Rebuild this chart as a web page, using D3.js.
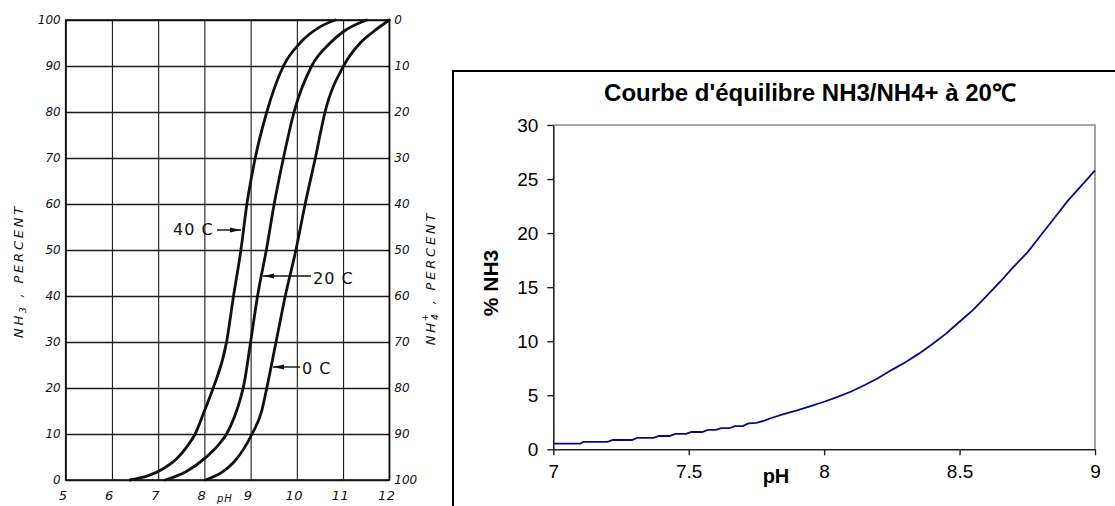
<!DOCTYPE html>
<html>
<head>
<meta charset="utf-8">
<script src="https://cdn.jsdelivr.net/npm/d3@7"></script>
<style>
  body { margin: 0; background: #fff; }
  svg { display: block; }
</style>
</head>
<body>
<svg id="chart" width="1115" height="506"></svg>
<script>
// ---------------------------
// NH3 / NH4+ equilibrium: scanned nomogram (left) + Excel-style chart (right)
// ---------------------------

// left panel ticks
const leftPhTicks = [5, 6, 7, 8, 9, 10, 11, 12];
const leftPctTicks = [0, 10, 20, 30, 40, 50, 60, 70, 80, 90, 100];

// left panel curves (pH, % NH3)
const ph40  = [6.39, 6.80, 7.10, 7.40, 7.62, 7.80, 8.00, 8.19, 8.48, 8.63, 8.79, 8.92, 9.10, 9.35, 9.71, 10.07, 10.50, 10.83];
const pct40 = [0,    1.0,  2.4,  4.6,  7.2,  10,   15,   20,   30,   40,   50,   60,   70,   80,   90,   95,    98.5,  100];
const ph20  = [7.15, 7.60, 8.02, 8.30, 8.48, 8.64, 8.76, 8.86, 9.00, 9.15, 9.34, 9.51, 9.71, 9.94, 10.32, 10.72, 11.01, 11.51];
const pct20 = [0,    1.8,  4.8,  7.6,  10,   13.5, 17,   21,   30,   40,   50,   60,   70,   80,   90,    95,    97.5,  100];
const ph0   = [8.02, 8.40, 8.63, 9.03, 9.24, 9.35, 9.55, 9.75, 9.98, 10.18, 10.40, 10.61, 11.01, 11.37, 11.66, 12.0];
const pct0  = [0,    1.8,  3.8,  10,   15,   20,   30,   40,   50,   60,    70,    80,    90,    95,    97.5,  100];

// right panel: Excel curve at 20 C
const rightPh  = [7.00, 7.10, 7.11, 7.20, 7.22, 7.29, 7.31, 7.37, 7.39, 7.43, 7.45, 7.49, 7.51, 7.55,
                  7.57, 7.60, 7.62, 7.65, 7.67, 7.70, 7.72, 7.75, 7.78, 7.80, 7.85, 7.90, 7.95, 8.00,
                  8.05, 8.10, 8.15, 8.20, 8.25, 8.30, 8.35, 8.40, 8.45, 8.50, 8.55, 8.60, 8.65, 8.70,
                  8.75, 8.80, 8.85, 8.90, 8.95, 9.00];
const rightNh3 = [0.52, 0.52, 0.68, 0.68, 0.86, 0.86, 1.05, 1.05, 1.23, 1.23, 1.42, 1.42, 1.6, 1.6,
                  1.8, 1.8, 1.95, 1.95, 2.15, 2.15, 2.4, 2.45, 2.65, 2.85, 3.25, 3.6, 4.0, 4.4,
                  4.85, 5.35, 5.95, 6.6, 7.35, 8.05, 8.85, 9.75, 10.7, 11.8, 12.9, 14.2, 15.5, 16.9,
                  18.2, 19.8, 21.4, 23.0, 24.4, 25.8];
const rightXTicks = [7, 7.5, 8, 8.5, 9];
const rightYTicks = [0, 5, 10, 15, 20, 25, 30];

const svg = d3.select("#chart");

// ===== LEFT PANEL =====
const xL = d3.scaleLinear().domain([5, 12]).range([65.7, 389.3]);
const yL = d3.scaleLinear().domain([0, 100]).range([480, 20]);
const scanFont = "'DejaVu Sans', sans-serif";
const left = svg.append("g");

// vertical grid + bottom labels
const gxL = left.append("g")
    .attr("transform", `translate(0,${yL(0)})`)
    .call(d3.axisBottom(xL).tickValues(leftPhTicks).tickSize(-(yL(0) - yL(100))).tickPadding(8)
        .tickFormat(d => String(d)));
gxL.select(".domain").remove();
gxL.selectAll(".tick line").attr("stroke", "#1b1b1b").attr("stroke-width", 1.1);
gxL.selectAll(".tick text")
    .attr("font-family", scanFont).attr("font-style", "italic").attr("font-size", 13)
    .attr("letter-spacing", 0.5).attr("fill", "#111").attr("dx", -3).attr("dy", "0.95em");

// horizontal grid + left labels
const gyL = left.append("g")
    .attr("transform", `translate(${xL(5)},0)`)
    .call(d3.axisLeft(yL).tickValues(leftPctTicks).tickSize(-(xL(12) - xL(5))).tickPadding(5));
gyL.select(".domain").remove();
gyL.selectAll(".tick line").attr("stroke", "#1b1b1b").attr("stroke-width", 1.4);
gyL.selectAll(".tick text")
    .attr("font-family", scanFont).attr("font-style", "italic").attr("font-size", 12)
    .attr("fill", "#111");

// right side labels (NH4+ = 100 - NH3)
const gyR = left.append("g")
    .attr("transform", `translate(${xL(12)},0)`)
    .call(d3.axisRight(yL).tickValues(leftPctTicks).tickSize(0).tickPadding(5).tickFormat(d => 100 - d));
gyR.select(".domain").remove();
gyR.selectAll(".tick text")
    .attr("font-family", scanFont).attr("font-style", "italic").attr("font-size", 12)
    .attr("fill", "#111");

// frame
left.append("rect")
    .attr("x", xL(5)).attr("y", yL(100))
    .attr("width", xL(12) - xL(5)).attr("height", yL(0) - yL(100))
    .attr("fill", "none").attr("stroke", "#111").attr("stroke-width", 1.6);

// curves
const lineL = d3.line().x(d => xL(d[0])).y(d => yL(d[1])).curve(d3.curveMonotoneX);
const scanCurves = [d3.zip(ph40, pct40), d3.zip(ph20, pct20), d3.zip(ph0, pct0)];
left.selectAll("path.curve").data(scanCurves).join("path")
    .attr("class", "curve")
    .attr("d", lineL)
    .attr("fill", "none").attr("stroke", "#111").attr("stroke-width", 2.8)
    .attr("stroke-linecap", "round");

// curve labels with arrows
const curveLabels = [
    { text: "40 C", x: 173, y: 235, ax1: 217, ax2: 241, ay: 230, dir: 1 },
    { text: "20 C", x: 313, y: 284, ax1: 311, ax2: 263, ay: 276, dir: -1 },
    { text: "0 C",  x: 302, y: 374, ax1: 300, ax2: 273, ay: 367, dir: -1 }
];
curveLabels.forEach(l => {
    left.append("text")
        .attr("x", l.x).attr("y", l.y)
        .attr("font-family", scanFont).attr("font-size", 16).attr("letter-spacing", 1)
        .attr("fill", "#111").text(l.text);
    left.append("line")
        .attr("x1", l.ax1).attr("x2", l.ax2).attr("y1", l.ay).attr("y2", l.ay)
        .attr("stroke", "#111").attr("stroke-width", 1.4);
    const tip = l.ax2, back = l.ax2 - l.dir * 11;
    left.append("path")
        .attr("d", `M${tip},${l.ay}L${back},${l.ay - 2.6}L${back},${l.ay + 2.6}Z`)
        .attr("fill", "#111");
});

// axis titles of the scan
const leftTitle = left.append("text")
    .attr("transform", "translate(23,271) rotate(-90)")
    .attr("text-anchor", "middle")
    .attr("font-family", scanFont).attr("font-style", "italic").attr("font-size", 13)
    .attr("letter-spacing", 2.8).attr("fill", "#111");
leftTitle.append("tspan").text("NH");
leftTitle.append("tspan").attr("dy", 3).attr("font-size", 9).text("3");
leftTitle.append("tspan").attr("dy", -3).text(" , PERCENT");

const rightTitle = left.append("text")
    .attr("transform", "translate(435,278) rotate(-90)")
    .attr("text-anchor", "middle")
    .attr("font-family", scanFont).attr("font-style", "italic").attr("font-size", 13)
    .attr("letter-spacing", 2.8).attr("fill", "#111");
rightTitle.append("tspan").text("NH");
rightTitle.append("tspan").attr("dy", 3).attr("font-size", 9).text("4");
rightTitle.append("tspan").attr("dx", -10).attr("dy", -10).attr("font-size", 9).text("+");
rightTitle.append("tspan").attr("dy", 7).text(" , PERCENT");

left.append("text")
    .attr("x", 217).attr("y", 502)
    .attr("font-family", scanFont).attr("font-style", "italic").attr("font-size", 10)
    .attr("letter-spacing", 1).attr("fill", "#111").text("pH");

// ===== RIGHT PANEL =====
const xR = d3.scaleLinear().domain([7, 9]).range([553.3, 1095]);
const yR = d3.scaleLinear().domain([0, 30]).range([449.3, 125]);
const xlFont = "'Liberation Sans', Arial, sans-serif";
const right = svg.append("g");

// chart area border (runs off the picture on the right and bottom)
right.append("rect")
    .attr("x", 453).attr("y", 71).attr("width", 700).attr("height", 500)
    .attr("fill", "#fff").attr("stroke", "#000").attr("stroke-width", 2);

right.append("text")
    .attr("x", 810).attr("y", 101)
    .attr("text-anchor", "middle")
    .attr("font-family", xlFont).attr("font-weight", "bold").attr("font-size", 24)
    .attr("fill", "#000").text("Courbe d'équilibre NH3/NH4+ à 20℃");

// plot area top/right edges in gray
right.append("path")
    .attr("d", `M${xR(7)},${yR(30)}H${xR(9)}V${yR(0)}`)
    .attr("fill", "none").attr("stroke", "#8c8c8c").attr("stroke-width", 1.6);

const gxR = right.append("g")
    .attr("transform", `translate(0,${yR(0)})`)
    .call(d3.axisBottom(xR).tickValues(rightXTicks).tickSize(6).tickSizeOuter(0).tickPadding(9)
        .tickFormat(d => String(d)));
const gyRR = right.append("g")
    .attr("transform", `translate(${xR(7)},0)`)
    .call(d3.axisLeft(yR).tickValues(rightYTicks).tickSize(6).tickSizeOuter(0).tickPadding(9));
[gxR, gyRR].forEach(g => {
    g.select(".domain").attr("stroke", "#222").attr("stroke-width", 1.6);
    g.selectAll(".tick line").attr("stroke", "#222").attr("stroke-width", 1.4);
    g.selectAll(".tick text")
        .attr("font-family", xlFont).attr("font-size", 19).attr("fill", "#000");
});

right.append("text")
    .attr("x", 776).attr("y", 483)
    .attr("text-anchor", "middle")
    .attr("font-family", xlFont).attr("font-weight", "bold").attr("font-size", 20)
    .text("pH");

right.append("text")
    .attr("transform", "translate(498,283) rotate(-90)")
    .attr("text-anchor", "middle")
    .attr("font-family", xlFont).attr("font-weight", "bold").attr("font-size", 21)
    .text("% NH3");

const lineR = d3.line().x(d => xR(d[0])).y(d => yR(d[1]));
right.append("path")
    .datum(d3.zip(rightPh, rightNh3))
    .attr("d", lineR)
    .attr("fill", "none").attr("stroke", "#0a0a80").attr("stroke-width", 1.8);
</script>
</body>
</html>
